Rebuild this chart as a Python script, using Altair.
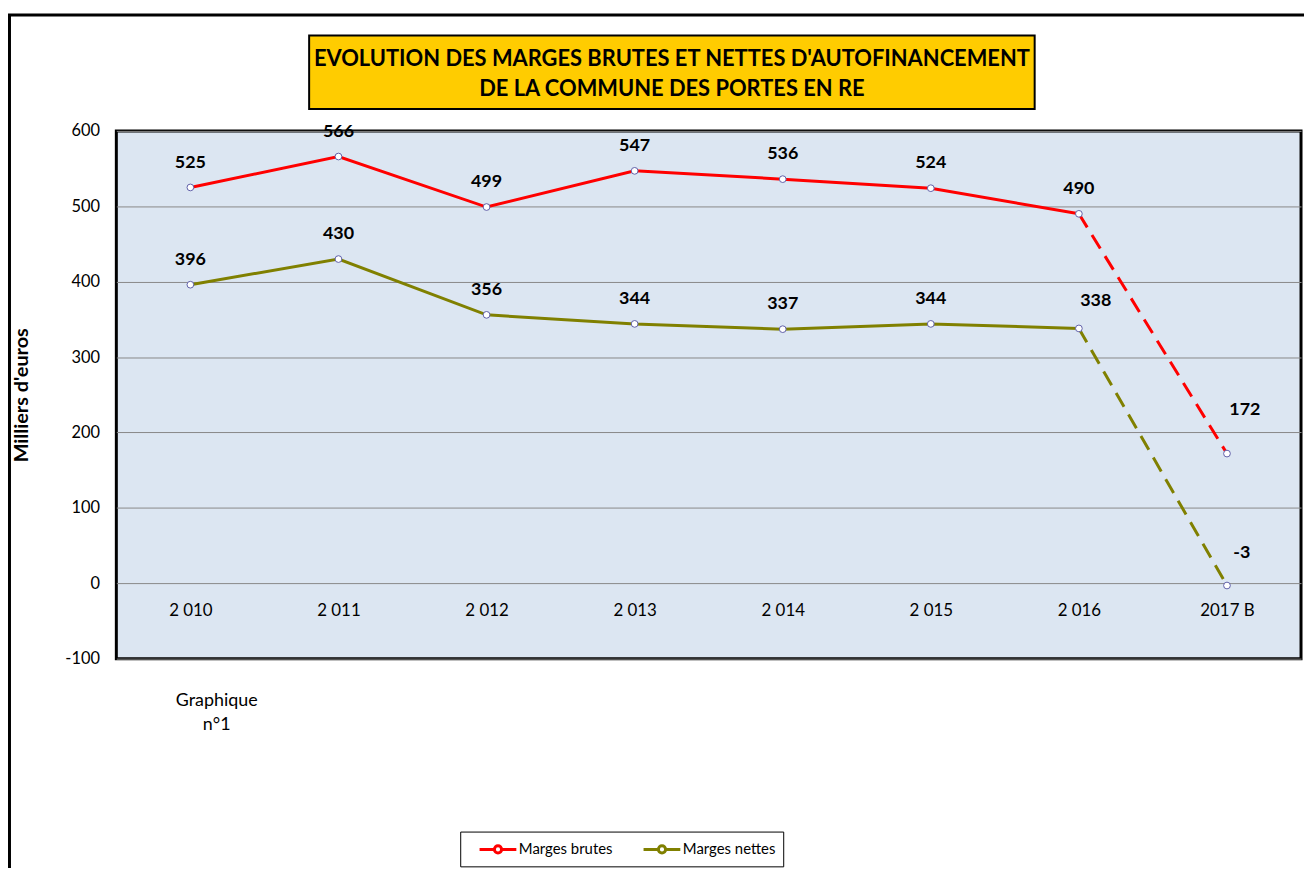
import altair as alt
import pandas as pd

years = ["2 010", "2 011", "2 012", "2 013", "2 014", "2 015", "2 016", "2017 B"]
brutes = [525, 566, 499, 547, 536, 524, 490, 172]
nettes = [396, 430, 356, 344, 337, 344, 338, -3]
series = ["Marges brutes", "Marges nettes"]
colors = ["#FF0000", "#808000"]
title_lines = ["EVOLUTION DES MARGES BRUTES ET NETTES D'AUTOFINANCEMENT",
               "DE LA COMMUNE  DES PORTES EN RE"]
y_ticks = [-100, 0, 100, 200, 300, 400, 500, 600]

rows = []
for i, yr in enumerate(years):
    rows.append({"annee": yr, "serie": series[0], "valeur": brutes[i], "idx": i})
    rows.append({"annee": yr, "serie": series[1], "valeur": nettes[i], "idx": i})
df = pd.DataFrame(rows)

W, H = 1192, 531
FONT = "Lato"
zero_px = H * 600 / 700

xenc = alt.X("annee:N", sort=years,
             scale=alt.Scale(type="point", padding=0.5),
             axis=alt.Axis(title=None, orient="bottom", offset=-(H - zero_px),
                           domain=False, ticks=False, grid=False, labelAngle=0,
                           labelPadding=19, labelFont=FONT, labelFontSize=17,
                           labelColor="black"))
yenc = alt.Y("valeur:Q",
             scale=alt.Scale(domain=[-100, 600], nice=False, zero=False),
             axis=alt.Axis(values=y_ticks, title="Milliers d'euros", grid=True,
                           gridColor="#888888", gridWidth=1, domain=False, ticks=False,
                           labelPadding=17, labelFont=FONT, labelFontSize=16.5,
                           labelColor="black", labelExpr="'' + datum.value",
                           titleFont=FONT, titleFontSize=20,
                           titleFontWeight="bold", titleColor="black",
                           titleX=-95, titleY=H / 2, titleAlign="center",
                           titleBaseline="middle", titleAngle=270))
cscale = alt.Scale(domain=series, range=colors)

sym_path = ("M0.22,0H1.88M2.68,0H4.33"
            "M2.68,0A0.4,0.4,0,1,1,1.88,0A0.4,0.4,0,1,1,2.68,0")

base = alt.Chart(df).transform_calculate(lab="'' + datum.valeur")

solid = base.transform_filter("datum.idx <= 6").mark_line(strokeWidth=3).encode(
    x=xenc, y=yenc,
    color=alt.Color("serie:N", scale=cscale,
                    legend=alt.Legend(orient="none", legendX=346, legendY=705,
                                      direction="horizontal", title=None,
                                      fillColor="white", strokeColor="black",
                                      padding=7, labelFont=FONT, labelFontSize=15,
                                      labelColor="black", labelOffset=31,
                                      columnPadding=18,
                                      symbolType=sym_path,
                                      symbolSize=324, symbolStrokeWidth=3,
                                      symbolFillColor="white")),
    detail="serie:N")

dashed = base.transform_filter("datum.idx >= 6").mark_line(
    strokeWidth=3, strokeDash=[16, 9]).encode(
    x=xenc, y=yenc, color=alt.Color("serie:N", scale=cscale, legend=None))

points = base.mark_point(filled=True, fill="white", stroke="#6060A8",
                         strokeWidth=1, size=46, opacity=1).encode(x=xenc, y=yenc)

special = "(datum.idx == 6 && datum.serie == 'Marges nettes') || datum.idx == 7"
lab_style = dict(font=FONT, fontSize=18, fontWeight="bold", color="black",
                 baseline="middle")
labels = base.transform_filter("!(" + special + ")").mark_text(
    dy=-25, **lab_style).encode(x=xenc, y=yenc, text="lab:N")
lab_338 = base.transform_filter("datum.idx == 6 && datum.serie == 'Marges nettes'").mark_text(
    dx=17, dy=-28, **lab_style).encode(x=xenc, y=yenc, text="lab:N")
lab_172 = base.transform_filter("datum.idx == 7 && datum.serie == 'Marges brutes'").mark_text(
    dx=18, dy=-44, **lab_style).encode(x=xenc, y=yenc, text="lab:N")
lab_m3 = base.transform_filter("datum.idx == 7 && datum.serie == 'Marges nettes'").mark_text(
    dx=15, dy=-33, **lab_style).encode(x=xenc, y=yenc, text="lab:N")

deco = alt.Chart(pd.DataFrame({"k": [0]}))
frame = deco.mark_rect(fillOpacity=0, stroke="black", strokeWidth=3).encode(
    x=alt.value(-107.5), x2=alt.value(1400), y=alt.value(-116.5), y2=alt.value(1000))
tbox = deco.mark_rect(fill="#FFCC00", stroke="black", strokeWidth=2).encode(
    x=alt.value(194), x2=alt.value(924), y=alt.value(-96), y2=alt.value(-22))
t1 = deco.mark_text(font=FONT, fontSize=22, fontWeight="bold", color="black",
                    baseline="middle", align="center").encode(
    x=alt.value(559), y=alt.value(-72), text=alt.value(title_lines[0]))
t2 = deco.mark_text(font=FONT, fontSize=22, fontWeight="bold", color="black",
                    baseline="middle", align="center").encode(
    x=alt.value(559), y=alt.value(-42), text=alt.value(title_lines[1]))
g1 = deco.mark_text(font=FONT, fontSize=18, color="black", baseline="middle",
                    align="center").encode(
    x=alt.value(101), y=alt.value(574), text=alt.value("Graphique"))
g2 = deco.mark_text(font=FONT, fontSize=18, color="black", baseline="middle",
                    align="center").encode(
    x=alt.value(101), y=alt.value(598), text=alt.value("n°1"))

chart = alt.layer(frame, tbox, t1, t2, g1, g2, solid, dashed, points,
                  labels, lab_338, lab_172, lab_m3).properties(
    width=W, height=H,
    autosize=alt.AutoSizeParams(type="none"),
    padding={"left": 109, "top": 121, "right": 3, "bottom": 208},
    background="white",
).configure_view(fill="#DCE6F2", stroke="black", strokeWidth=3)

chart.save("out.html", embed_options={"renderer": "svg", "actions": False})
